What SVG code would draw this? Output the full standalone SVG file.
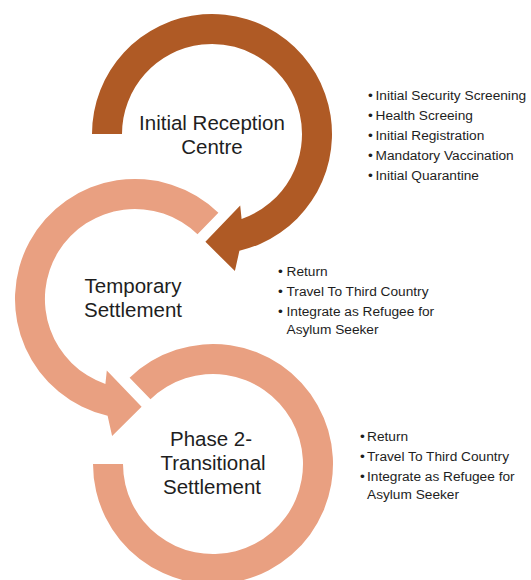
<svg xmlns="http://www.w3.org/2000/svg" width="531" height="580" viewBox="0 0 531 580">
<style>
.dark{fill:#AF5A25}
.light{fill:#E9A081}
.lbl{font-family:"Liberation Sans",Arial,sans-serif;font-size:20.5px;fill:#1e1e1e;text-anchor:middle}
.bl{font-family:"Liberation Sans",Arial,sans-serif;font-size:13.7px;fill:#1e1e1e}
.dot{text-anchor:middle}
</style>
<rect width="531" height="580" fill="#ffffff"/>
<g id="connectors">
<path id="arrow-1-2" class="dark" d="M92,134 A120,120 0 1 1 239.4,250.8 L234.9,271.1 L205.4,241.8 L240.2,205.6 L241.6,219 A90,90 0 1 0 122,134 Z"/>
<path id="arrow-2-3" class="light" d="M218.4,212.7 A120,120 0 1 0 107.6,415.8 L112.1,436.1 L141.6,406.8 L106.8,370.6 L105.4,384 A90,90 0 1 1 197.5,234.3 Z"/>
</g>
<g id="node-initial-reception">
<text class="lbl" x="212" y="130">Initial Reception</text>
<text class="lbl" x="212" y="154">Centre</text>
<g class="bl">
<text class="dot" x="370.5" y="99.5">•</text><text x="375.5" y="99.5">Initial Security Screening</text>
<text class="dot" x="370.5" y="119.7">•</text><text x="375.5" y="119.7">Health Screeing</text>
<text class="dot" x="370.5" y="139.9">•</text><text x="375.5" y="139.9">Initial Registration</text>
<text class="dot" x="370.5" y="160.1">•</text><text x="375.5" y="160.1">Mandatory Vaccination</text>
<text class="dot" x="370.5" y="180.3">•</text><text x="375.5" y="180.3">Initial Quarantine</text>
</g>
</g>
<g id="node-temporary-settlement">
<text class="lbl" x="133" y="293">Temporary</text>
<text class="lbl" x="133" y="317">Settlement</text>
<g class="bl">
<text class="dot" x="280.5" y="276">•</text><text x="286.5" y="276">Return</text>
<text class="dot" x="280.5" y="296">•</text><text x="286.5" y="296">Travel To Third Country</text>
<text class="dot" x="280.5" y="316">•</text><text x="286.5" y="316">Integrate as Refugee for</text>
<text x="286.5" y="334">Asylum Seeker</text>
</g>
</g>
<g id="node-transitional-settlement">
<path class="light" d="M129.6,377.7 A120,120 0 1 1 93,464 L123,464 A90,90 0 1 0 150.5,399.3 Z"/>
<text class="lbl" x="211" y="446">Phase 2-</text>
<text class="lbl" x="213" y="470">Transitional</text>
<text class="lbl" x="212" y="494">Settlement</text>
<g class="bl">
<text class="dot" x="362.5" y="441">•</text><text x="367" y="441">Return</text>
<text class="dot" x="362.5" y="461">•</text><text x="367" y="461">Travel To Third Country</text>
<text class="dot" x="362.5" y="481">•</text><text x="367" y="481">Integrate as Refugee for</text>
<text x="367" y="499">Asylum Seeker</text>
</g>
</g>
</svg>
